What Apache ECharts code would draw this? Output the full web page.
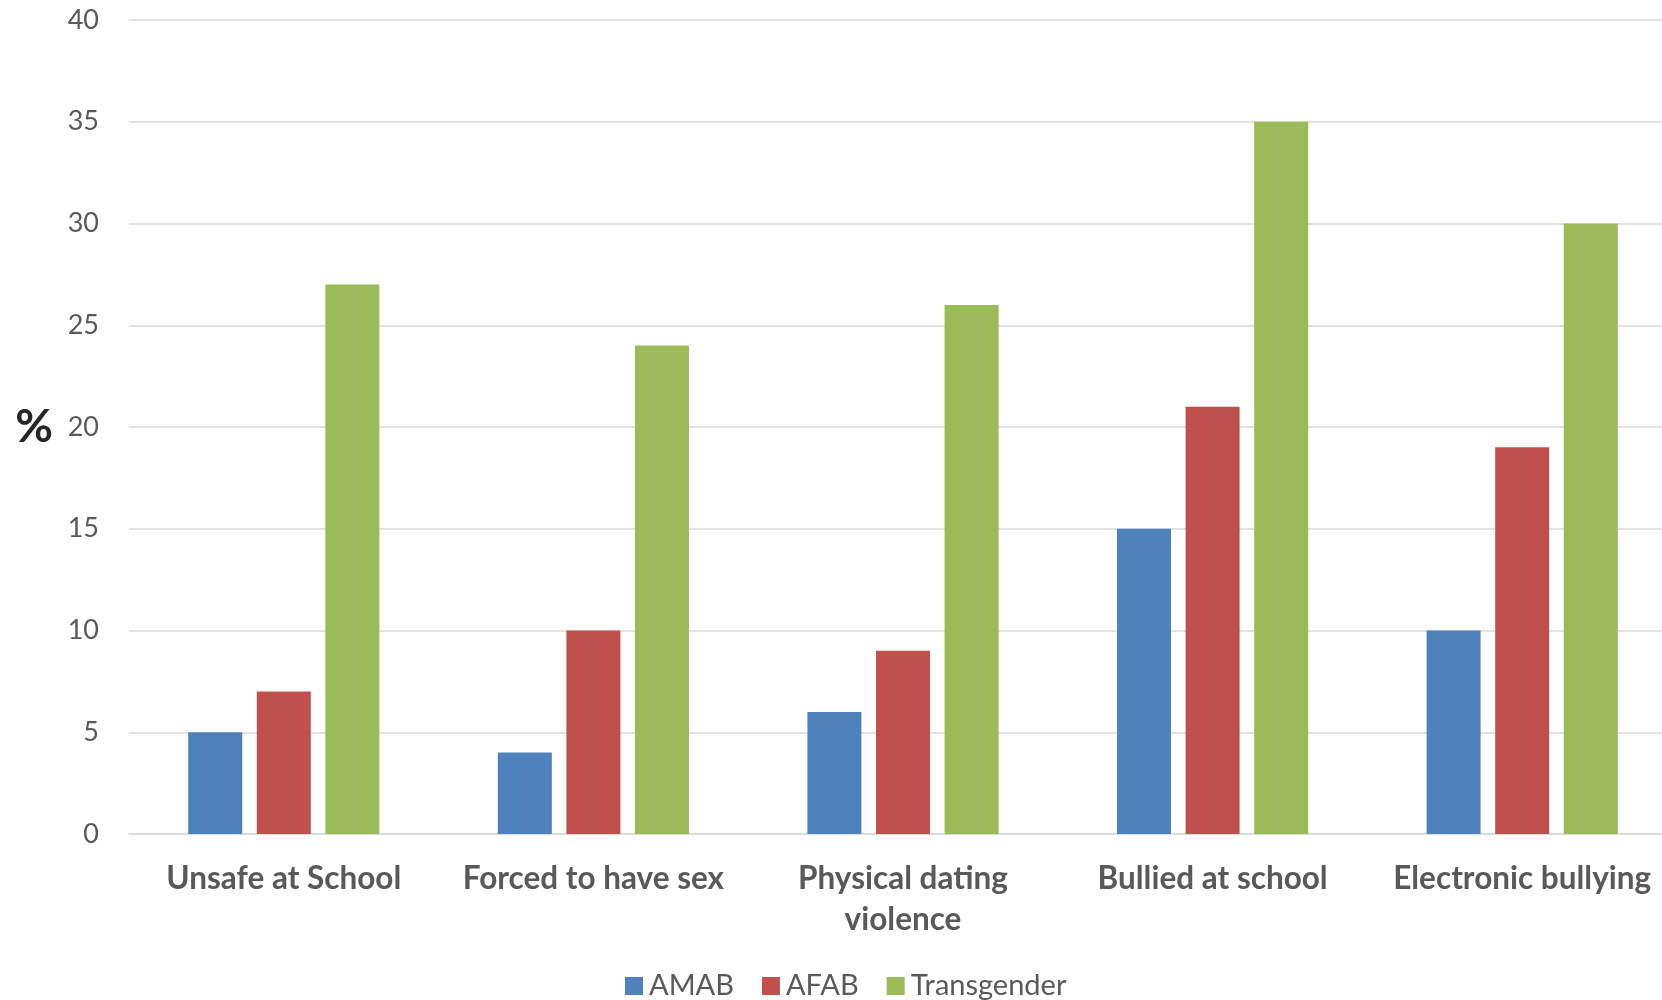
<!DOCTYPE html>
<html>
<head>
<meta charset="utf-8">
<script src="https://cdn.jsdelivr.net/npm/echarts@6/dist/echarts.min.js"></script>
<style>
html,body{margin:0;padding:0;background:#fff;overflow:hidden;}
#chart{width:1700px;height:1000px;}
</style>
</head>
<body>
<div id="chart"></div>
<script>
const categories = ['Unsafe at School', 'Forced to have sex', 'Physical dating violence', 'Bullied at school', 'Electronic bullying'];
const amab = [5, 4, 6, 15, 10];
const afab = [7, 10, 9, 21, 19];
const transgender = [27, 24, 26, 35, 30];
const seriesNames = ['AMAB', 'AFAB', 'Transgender'];
const colors = ['#4F81BD', '#C0504D', '#9BBB59'];

const FONT = 'Lato';
const chart = echarts.init(document.getElementById('chart'), null, {renderer: 'canvas'});
const mkSeries = (name, data, color) => ({
  name, type: 'bar', data, barWidth: 54, barGap: '27%',
  itemStyle: {color}, animation: false
});
chart.setOption({
  animation: false,
  color: colors,
  grid: {left: 129, right: 23, top: 20, bottom: 166},
  legend: {
    data: seriesNames, left: 620, top: 966,
    itemWidth: 18, itemHeight: 18, itemGap: 28, icon: 'rect',
    textStyle: {fontFamily: FONT, fontSize: 29, color: '#595959', padding: [0, 0, 0, 1], lineHeight: 30}
  },
  xAxis: {
    type: 'category', data: categories,
    axisTick: {show: false},
    axisLine: {lineStyle: {color: '#D9D9D9', width: 1.5}},
    axisLabel: {
      fontFamily: FONT, fontWeight: 'bold', fontSize: 31.5, color: '#595959',
      margin: 24, lineHeight: 41, interval: 0,
      formatter: v => v.replace('dating ', 'dating\n')
    }
  },
  yAxis: {
    type: 'value', min: 0, max: 40, interval: 5,
    name: '%', nameLocation: 'middle', nameRotate: 0, nameGap: 76,
    nameTextStyle: {fontFamily: FONT, fontWeight: 'bold', fontSize: 46, color: '#262626'},
    axisLine: {show: false}, axisTick: {show: false},
    splitLine: {lineStyle: {color: '#D9D9D9', width: 1.5}},
    axisLabel: {fontFamily: FONT, fontSize: 27, color: '#595959', margin: 30}
  },
  series: [
    mkSeries(seriesNames[0], amab, colors[0]),
    mkSeries(seriesNames[1], afab, colors[1]),
    mkSeries(seriesNames[2], transgender, colors[2])
  ]
});
</script>
</body>
</html>
